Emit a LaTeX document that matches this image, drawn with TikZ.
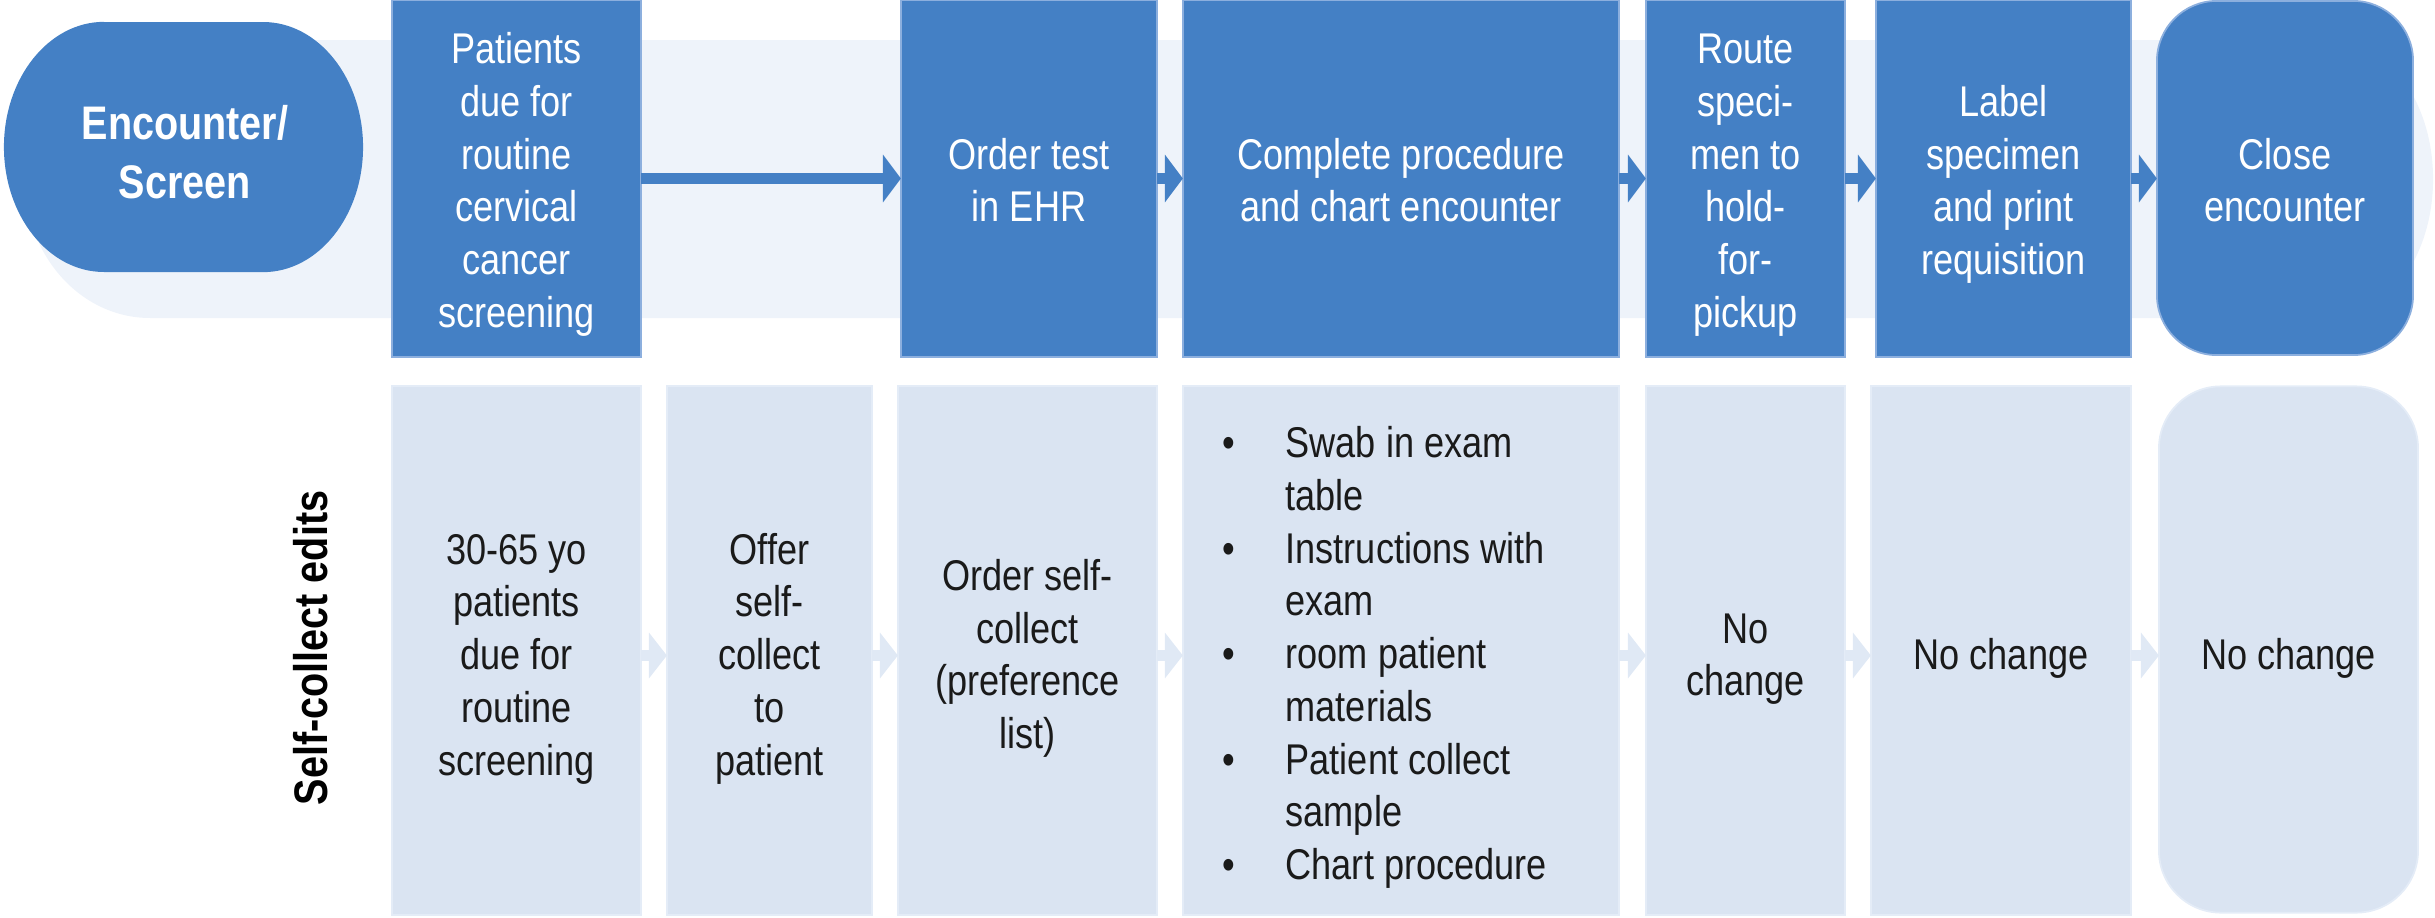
\documentclass[tikz,border=0pt]{standalone}
\usepackage{fontspec}
\setmainfont{Liberation Sans}[FakeStretch=0.84]
\usetikzlibrary{arrows.meta}
\definecolor{dblue}{RGB}{68,128,197}
\definecolor{dedge}{RGB}{140,175,222}
\definecolor{lbox}{RGB}{218,228,242}
\definecolor{ledge}{RGB}{228,236,247}
\definecolor{bandc}{RGB}{238,243,250}
\definecolor{larrow}{RGB}{224,233,245}
\definecolor{txt}{RGB}{26,26,26}
\newcommand\sx{\strut}
\newcommand\bul{\makebox[0.63cm][l]{\textbullet}}
\newcommand\ind{\makebox[0.63cm]{}}
\begin{document}
\begin{tikzpicture}[x=0.01cm,y=-0.01cm,
  tbox/.style={draw=dedge,line width=0.5pt,fill=dblue,inner sep=0pt,outer sep=0pt,minimum height=3.57cm},
  lbx/.style={draw=ledge,line width=0.5pt,fill=lbox,inner sep=0pt,outer sep=0pt,minimum height=5.29cm},
  ttext/.style={text=white,align=center,inner sep=0pt,font=\fontsize{12.23pt}{15pt}\selectfont},
  btxt/.style={text=txt,align=center,inner sep=0pt,font=\fontsize{12.23pt}{15pt}\selectfont},
  boldtxt/.style={inner sep=0pt,align=center,font=\fontsize{13.4pt}{16.8pt}\selectfont\bfseries},
  tarrow/.style={draw=dblue,line width=0.1cm,-{Triangle[length=0.18cm,width=0.47cm]}},
  larrowst/.style={draw=larrow,line width=0.11cm,-{Triangle[length=0.18cm,width=0.45cm]}}]
\useasboundingbox (0,0) rectangle (2435,918);
% background band of the top row
\fill[bandc] (150,40) -- (2333,40)
  arc[start angle=90,end angle=-90,x radius=1cm,y radius=1.39cm]
  -- (150,318)
  arc[start angle=270,end angle=90,x radius=1.25cm,y radius=1.39cm] -- cycle;
% Encounter / Screen shape
\fill[dblue] (104,22) -- (263,22)
  arc[start angle=90,end angle=-90,x radius=1cm,y radius=1.25cm]
  -- (104,272)
  arc[start angle=270,end angle=90,x radius=1cm,y radius=1.25cm] -- cycle;
\node[boldtxt,text=white] (encT) at (185,157) {\sx Encounter/\\\sx Screen};
% top row boxes
\node[tbox,minimum width=2.49cm] (pat) at (516.5,178.5) {};
\node[tbox,minimum width=2.56cm] (ord) at (1029,178.5) {};
\node[tbox,minimum width=4.36cm] (cmp) at (1401,178.5) {};
\node[tbox,minimum width=1.99cm] (rte) at (1745.5,178.5) {};
\node[tbox,minimum width=2.55cm] (lbl) at (2003.5,178.5) {};
\node[tbox,minimum width=2.56cm,minimum height=3.54cm,rounded corners=0.6cm] (cls) at (2285,178) {};
\node[ttext] (patT) at (516.5,185) {\sx Patients\\\sx due for\\\sx routine\\\sx cervical\\\sx cancer\\\sx screening};
\node[ttext] (ordT) at (1029,185) {\sx Order test\\\sx in EHR};
\node[ttext] (cmpT) at (1401,185) {\sx Complete procedure\\\sx and chart encounter};
\node[ttext] (rteT) at (1745.5,185) {\sx Route\\\sx speci-\\\sx men to\\\sx hold-\\\sx for-\\\sx pickup};
\node[ttext] (lblT) at (2003.5,185) {\sx Label\\\sx specimen\\\sx and print\\\sx requisition};
\node[ttext] (clsT) at (2285,185) {\sx Close\\\sx encounter};
% top row connectors
\draw[tarrow] (pat.east) -- (pat.east -| ord.west);
\draw[tarrow] (ord.east) -- (ord.east -| cmp.west);
\draw[tarrow] (cmp.east) -- (cmp.east -| rte.west);
\draw[tarrow] (rte.east) -- (rte.east -| lbl.west);
\draw[tarrow] (lbl.east) -- (lbl.east -| cls.west);
% row label
\node[boldtxt,text=black,rotate=90,anchor=base] (sce) at (327,648) {Self-collect edits};
% bottom row boxes
\node[lbx,minimum width=2.49cm] (b1) at (516.5,650.5) {};
\node[lbx,minimum width=2.05cm] (b2) at (769.5,650.5) {};
\node[lbx,minimum width=2.59cm] (b3) at (1027.5,650.5) {};
\node[lbx,minimum width=4.36cm] (b4) at (1401,650.5) {};
\node[lbx,minimum width=1.99cm] (b5) at (1745.5,650.5) {};
\node[lbx,minimum width=2.60cm] (b6) at (2001,650.5) {};
\node[lbx,minimum width=2.59cm,minimum height=5.26cm,rounded corners=0.62cm] (b7) at (2288.5,649.5) {};
\node[btxt] (b1T) at (516.5,659) {\sx 30-65 yo\\\sx patients\\\sx due for\\\sx routine\\\sx screening};
\node[btxt] (b2T) at (769.5,659) {\sx Offer\\\sx self-\\\sx collect\\\sx to\\\sx patient};
\node[btxt] (b3T) at (1027.5,659) {\sx Order self-\\\sx collect\\\sx (preference\\\sx list)};
\node[btxt,align=left,anchor=west] (b4T) at (1222,658) {\sx\bul Swab in exam\\\sx\ind table\\\sx\bul Instructions with\\\sx\ind exam\\\sx\bul room patient\\\sx\ind materials\\\sx\bul Patient collect\\\sx\ind sample\\\sx\bul Chart procedure};
\node[btxt] (b5T) at (1745.5,659) {\sx No\\\sx change};
\node[btxt] (b6T) at (2001,659) {\sx No change};
\node[btxt] (b7T) at (2288.5,659) {\sx No change};
% bottom row connectors
\draw[larrowst] ([yshift=-0.05cm]b1.east) -- ([yshift=-0.05cm]b1.east -| b2.west);
\draw[larrowst] ([yshift=-0.05cm]b2.east) -- ([yshift=-0.05cm]b2.east -| b3.west);
\draw[larrowst] ([yshift=-0.05cm]b3.east) -- ([yshift=-0.05cm]b3.east -| b4.west);
\draw[larrowst] ([yshift=-0.05cm]b4.east) -- ([yshift=-0.05cm]b4.east -| b5.west);
\draw[larrowst] ([yshift=-0.05cm]b5.east) -- ([yshift=-0.05cm]b5.east -| b6.west);
\draw[larrowst] ([yshift=-0.05cm]b6.east) -- ([yshift=-0.05cm]b6.east -| b7.west);
\end{tikzpicture}
\end{document}
